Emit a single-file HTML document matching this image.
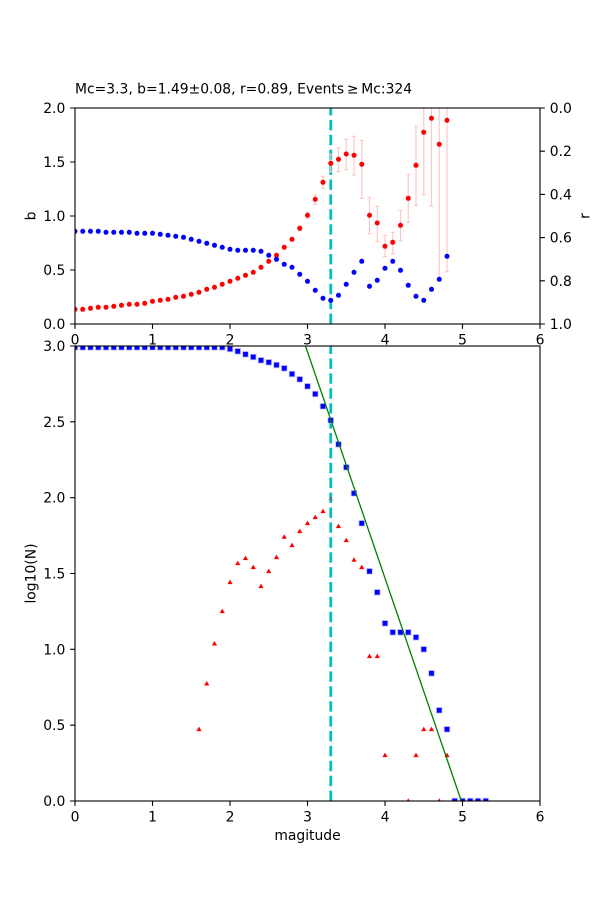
<!DOCTYPE html>
<html><head><meta charset="utf-8"><style>
html,body{margin:0;padding:0;background:#fff;}
svg{display:block;}
text{font-family:"DejaVu Sans","Liberation Sans",sans-serif;font-size:13.9px;fill:#000;}
</style></head><body>
<svg width="600" height="900" viewBox="0 0 600 900" xmlns="http://www.w3.org/2000/svg">
<defs>
<clipPath id="c1"><rect x="75" y="108" width="465" height="216"/></clipPath>
<clipPath id="c2"><rect x="75" y="346" width="465" height="455"/></clipPath>
</defs>
<rect width="600" height="900" fill="#fff"/>

<!-- Title -->
<text x="75" y="93.5">Mc=3.3, b=1.49±0.08, r=0.89, Events&#8201;≥&#8201;Mc:324</text>

<!-- ============ TOP AXES ============ -->
<g clip-path="url(#c1)">
<line x1="330.75" y1="324" x2="330.75" y2="108" stroke="#00bfbf" stroke-width="2.8" stroke-dasharray="10.4 4.5"/>
<!-- error bars -->
<g stroke="#ffc4c4" stroke-width="1.1" fill="none">
<path d="M299.75 226V231M297.75 226h4M297.75 231h4"/>
<path d="M307.5 212V219M305.5 212h4M305.5 219h4"/>
<path d="M315.25 195V204.3M313.25 195h4M313.25 204.3h4"/>
<path d="M323 176.3V188.3M321 176.3h4M321 188.3h4"/>
<path d="M330.75 154.3V171.7M328.75 154.3h4M328.75 171.7h4"/>
<path d="M338.5 147.7V171.7M336.5 147.7h4M336.5 171.7h4"/>
<path d="M346.25 139.3V169.7M344.25 139.3h4M344.25 169.7h4"/>
<path d="M354 136.3V175M352 136.3h4M352 175h4"/>
<path d="M361.75 140.3V198.3M359.75 140.3h4M359.75 198.3h4"/>
<path d="M369.5 197.3V233.7M367.5 197.3h4M367.5 233.7h4"/>
<path d="M377.25 206.3V241.7M375.25 206.3h4M375.25 241.7h4"/>
<path d="M385 235.3V256.7M383 235.3h4M383 256.7h4"/>
<path d="M392.75 232.3V253.7M390.75 232.3h4M390.75 253.7h4"/>
<path d="M400.5 210.3V240.7M398.5 210.3h4M398.5 240.7h4"/>
<path d="M408.25 174.3V222.3M406.25 174.3h4M406.25 222.3h4"/>
<path d="M416 126.3V205.3M414 126.3h4M414 205.3h4"/>
<path d="M423.75 100V194.7M421.75 194.7h4"/>
<path d="M431.5 100V206.3M429.5 206.3h4"/>
<path d="M439.25 100V278.3M437.25 278.3h4"/>
<path d="M447 100V271.7M445 271.7h4"/>
</g>
<!-- red dots (b) -->
<g fill="#ff0000">
<circle cx="75" cy="309.3" r="2.5"/><circle cx="82.75" cy="309.3" r="2.5"/><circle cx="90.5" cy="308.3" r="2.5"/><circle cx="98.25" cy="307.3" r="2.5"/><circle cx="106" cy="307.3" r="2.5"/><circle cx="113.75" cy="306.3" r="2.5"/><circle cx="121.5" cy="305.3" r="2.5"/><circle cx="129.25" cy="304.3" r="2.5"/><circle cx="137" cy="304.3" r="2.5"/><circle cx="144.75" cy="303.3" r="2.5"/><circle cx="152.5" cy="301.3" r="2.5"/><circle cx="160.25" cy="300.3" r="2.5"/><circle cx="168" cy="299.3" r="2.5"/><circle cx="175.75" cy="297.3" r="2.5"/><circle cx="183.5" cy="296.3" r="2.5"/><circle cx="191.25" cy="294.3" r="2.5"/><circle cx="199" cy="292.3" r="2.5"/><circle cx="206.75" cy="289.3" r="2.5"/><circle cx="214.5" cy="287.3" r="2.5"/><circle cx="222.25" cy="284.3" r="2.5"/><circle cx="230" cy="281.3" r="2.5"/><circle cx="237.75" cy="278.3" r="2.5"/><circle cx="245.5" cy="275.3" r="2.5"/><circle cx="253.25" cy="272.3" r="2.5"/><circle cx="261" cy="267.3" r="2.5"/><circle cx="268.75" cy="261.3" r="2.5"/><circle cx="276.5" cy="255.3" r="2.5"/><circle cx="284.25" cy="247.3" r="2.5"/><circle cx="292" cy="239.3" r="2.5"/><circle cx="299.75" cy="228.3" r="2.5"/><circle cx="307.5" cy="215.3" r="2.5"/><circle cx="315.25" cy="199.3" r="2.5"/><circle cx="323" cy="182.3" r="2.5"/><circle cx="330.75" cy="163.3" r="2.5"/><circle cx="338.5" cy="159.3" r="2.5"/><circle cx="346.25" cy="154" r="2.5"/><circle cx="354" cy="155.3" r="2.5"/><circle cx="361.75" cy="164.3" r="2.5"/><circle cx="369.5" cy="215.3" r="2.5"/><circle cx="377.25" cy="223" r="2.5"/><circle cx="385" cy="246.3" r="2.5"/><circle cx="392.75" cy="242.3" r="2.5"/><circle cx="400.5" cy="225.3" r="2.5"/><circle cx="408.25" cy="198.3" r="2.5"/><circle cx="416" cy="165.3" r="2.5"/><circle cx="423.75" cy="132.3" r="2.5"/><circle cx="431.5" cy="118.3" r="2.5"/><circle cx="439.25" cy="144.3" r="2.5"/><circle cx="447" cy="120.3" r="2.5"/>
</g>
<!-- blue dots (r) -->
<g fill="#0000ff">
<circle cx="75" cy="231.3" r="2.5"/><circle cx="82.75" cy="231.3" r="2.5"/><circle cx="90.5" cy="231.3" r="2.5"/><circle cx="98.25" cy="231.3" r="2.5"/><circle cx="106" cy="232.3" r="2.5"/><circle cx="113.75" cy="232.3" r="2.5"/><circle cx="121.5" cy="232.3" r="2.5"/><circle cx="129.25" cy="232.3" r="2.5"/><circle cx="137" cy="233.3" r="2.5"/><circle cx="144.75" cy="233.3" r="2.5"/><circle cx="152.5" cy="233.3" r="2.5"/><circle cx="160.25" cy="234.3" r="2.5"/><circle cx="168" cy="235.3" r="2.5"/><circle cx="175.75" cy="236.3" r="2.5"/><circle cx="183.5" cy="237.3" r="2.5"/><circle cx="191.25" cy="239.3" r="2.5"/><circle cx="199" cy="241.3" r="2.5"/><circle cx="206.75" cy="243.3" r="2.5"/><circle cx="214.5" cy="245.3" r="2.5"/><circle cx="222.25" cy="247.3" r="2.5"/><circle cx="230" cy="249.3" r="2.5"/><circle cx="237.75" cy="250.3" r="2.5"/><circle cx="245.5" cy="250.3" r="2.5"/><circle cx="253.25" cy="250.3" r="2.5"/><circle cx="261" cy="251.3" r="2.5"/><circle cx="268.75" cy="255.3" r="2.5"/><circle cx="276.5" cy="259.3" r="2.5"/><circle cx="284.25" cy="264.3" r="2.5"/><circle cx="292" cy="267.3" r="2.5"/><circle cx="299.75" cy="274.3" r="2.5"/><circle cx="307.5" cy="281.3" r="2.5"/><circle cx="315.25" cy="290.3" r="2.5"/><circle cx="323" cy="298.3" r="2.5"/><circle cx="330.75" cy="300.3" r="2.5"/><circle cx="338.5" cy="295.3" r="2.5"/><circle cx="346.25" cy="284.3" r="2.5"/><circle cx="354" cy="272.3" r="2.5"/><circle cx="361.75" cy="261.3" r="2.5"/><circle cx="369.5" cy="286.3" r="2.5"/><circle cx="377.25" cy="280.3" r="2.5"/><circle cx="385" cy="268.3" r="2.5"/><circle cx="392.75" cy="261.3" r="2.5"/><circle cx="400.5" cy="270.3" r="2.5"/><circle cx="408.25" cy="285.3" r="2.5"/><circle cx="416" cy="296.3" r="2.5"/><circle cx="423.75" cy="300.3" r="2.5"/><circle cx="431.5" cy="289.3" r="2.5"/><circle cx="439.25" cy="279.3" r="2.5"/><circle cx="447" cy="256.3" r="2.5"/>
</g>
</g>
<!-- top frame -->
<rect x="75" y="108" width="465" height="216" fill="none" stroke="#000" stroke-width="1.1"/>
<!-- top ticks -->
<g stroke="#000" stroke-width="1.1">
<path d="M70.1 108H75M70.1 162H75M70.1 216H75M70.1 270H75M70.1 324H75"/>
<path d="M540 108H544.9M540 151.2H544.9M540 194.4H544.9M540 237.6H544.9M540 280.8H544.9M540 324H544.9"/>
<path d="M75 324V328.9M152.5 324V328.9M230 324V328.9M307.5 324V328.9M385 324V328.9M462.5 324V328.9M540 324V328.9"/>
</g>
<g text-anchor="end">
<text x="65.3" y="113">2.0</text><text x="65.3" y="167">1.5</text><text x="65.3" y="221">1.0</text><text x="65.3" y="275">0.5</text><text x="65.3" y="329">0.0</text>
</g>
<g text-anchor="start">
<text x="549.7" y="113">0.0</text><text x="549.7" y="156.2">0.2</text><text x="549.7" y="199.4">0.4</text><text x="549.7" y="242.6">0.6</text><text x="549.7" y="285.8">0.8</text><text x="549.7" y="329">1.0</text>
</g>
<g text-anchor="middle">
<text x="75" y="344.5">0</text><text x="152.5" y="344.5">1</text><text x="230" y="344.5">2</text><text x="307.5" y="344.5">3</text><text x="385" y="344.5">4</text><text x="462.5" y="344.5">5</text><text x="540" y="344.5">6</text>
</g>
<text transform="translate(35.5,216) rotate(-90)" text-anchor="middle">b</text>
<text transform="translate(589.3,216) rotate(-90)" text-anchor="middle">r</text>

<!-- ============ BOTTOM AXES ============ -->
<g clip-path="url(#c2)">
<line x1="330.75" y1="801" x2="330.75" y2="346" stroke="#00bfbf" stroke-width="2.8" stroke-dasharray="10.4 4.5"/>
<!-- red triangles -->
<g fill="#ff0000">
<path d="M199 726.6l2.6 4.5h-5.2z"/><path d="M206.75 681l2.6 4.5h-5.2z"/><path d="M214.5 641l2.6 4.5h-5.2z"/><path d="M222.25 608.6l2.6 4.5h-5.2z"/><path d="M230 579.6l2.6 4.5h-5.2z"/><path d="M237.75 560.6l2.6 4.5h-5.2z"/><path d="M245.5 555.6l2.6 4.5h-5.2z"/><path d="M253.25 564.6l2.6 4.5h-5.2z"/><path d="M261 583.6l2.6 4.5h-5.2z"/><path d="M268.75 568.6l2.6 4.5h-5.2z"/><path d="M276.5 554.6l2.6 4.5h-5.2z"/><path d="M284.25 534.3l2.6 4.5h-5.2z"/><path d="M292 542.6l2.6 4.5h-5.2z"/><path d="M299.75 528.6l2.6 4.5h-5.2z"/><path d="M307.5 520.6l2.6 4.5h-5.2z"/><path d="M315.25 514.6l2.6 4.5h-5.2z"/><path d="M323 508.6l2.6 4.5h-5.2z"/><path d="M330.75 496l2.6 4.5h-5.2z" opacity="0.35"/><path d="M338.5 523.6l2.6 4.5h-5.2z"/><path d="M346.25 537.6l2.6 4.5h-5.2z"/><path d="M354 557.3l2.6 4.5h-5.2z"/><path d="M361.75 564.6l2.6 4.5h-5.2z"/><path d="M369.5 653.6l2.6 4.5h-5.2z"/><path d="M377.25 653.6l2.6 4.5h-5.2z"/><path d="M385 752.6l2.6 4.5h-5.2z"/><path d="M408.25 798.3l2.6 4.5h-5.2z"/><path d="M416 752.6l2.6 4.5h-5.2z"/><path d="M423.75 726.6l2.6 4.5h-5.2z"/><path d="M431.5 726.6l2.6 4.5h-5.2z"/><path d="M439.25 798.3l2.6 4.5h-5.2z"/><path d="M447 752.6l2.6 4.5h-5.2z"/>
</g>
<!-- blue squares -->
<g fill="#0000ff" stroke="#c0c0ff" stroke-width="0.8">
<rect x="72.2" y="344.5" width="5.6" height="5.6"/><rect x="79.95" y="344.5" width="5.6" height="5.6"/><rect x="87.7" y="344.5" width="5.6" height="5.6"/><rect x="95.45" y="344.5" width="5.6" height="5.6"/><rect x="103.2" y="344.5" width="5.6" height="5.6"/><rect x="110.95" y="344.5" width="5.6" height="5.6"/><rect x="118.7" y="344.5" width="5.6" height="5.6"/><rect x="126.45" y="344.5" width="5.6" height="5.6"/><rect x="134.2" y="344.5" width="5.6" height="5.6"/><rect x="141.95" y="344.5" width="5.6" height="5.6"/><rect x="149.7" y="344.5" width="5.6" height="5.6"/><rect x="157.45" y="344.5" width="5.6" height="5.6"/><rect x="165.2" y="344.5" width="5.6" height="5.6"/><rect x="172.95" y="344.5" width="5.6" height="5.6"/><rect x="180.7" y="344.5" width="5.6" height="5.6"/><rect x="188.45" y="344.5" width="5.6" height="5.6"/><rect x="196.2" y="344.5" width="5.6" height="5.6"/><rect x="203.95" y="344.5" width="5.6" height="5.6"/><rect x="211.7" y="344.5" width="5.6" height="5.6"/><rect x="219.45" y="344.5" width="5.6" height="5.6"/>
<rect x="227.2" y="346.2" width="5.6" height="5.6"/><rect x="234.95" y="348.5" width="5.6" height="5.6"/><rect x="242.7" y="351.5" width="5.6" height="5.6"/><rect x="250.45" y="354.2" width="5.6" height="5.6"/><rect x="258.2" y="357.5" width="5.6" height="5.6"/><rect x="265.95" y="359.5" width="5.6" height="5.6"/><rect x="273.7" y="362.2" width="5.6" height="5.6"/><rect x="281.45" y="365.5" width="5.6" height="5.6"/><rect x="289.2" y="371.2" width="5.6" height="5.6"/><rect x="296.95" y="376.5" width="5.6" height="5.6"/><rect x="304.7" y="383.5" width="5.6" height="5.6"/><rect x="312.45" y="391.2" width="5.6" height="5.6"/><rect x="320.2" y="403.5" width="5.6" height="5.6"/><rect x="327.95" y="417.5" width="5.6" height="5.6"/><rect x="335.7" y="441.5" width="5.6" height="5.6"/><rect x="343.45" y="464.5" width="5.6" height="5.6"/><rect x="351.2" y="490.5" width="5.6" height="5.6"/><rect x="358.95" y="520.5" width="5.6" height="5.6"/><rect x="366.7" y="568.5" width="5.6" height="5.6"/><rect x="374.45" y="589.5" width="5.6" height="5.6"/><rect x="382.2" y="620.5" width="5.6" height="5.6"/><rect x="389.95" y="629.5" width="5.6" height="5.6"/><rect x="397.7" y="629.5" width="5.6" height="5.6"/><rect x="405.45" y="629.5" width="5.6" height="5.6"/><rect x="413.2" y="634.5" width="5.6" height="5.6"/><rect x="420.95" y="646.5" width="5.6" height="5.6"/><rect x="428.7" y="670.5" width="5.6" height="5.6"/><rect x="436.45" y="707.5" width="5.6" height="5.6"/><rect x="444.2" y="726.5" width="5.6" height="5.6"/><rect x="451.95" y="798.2" width="5.6" height="5.6"/><rect x="459.7" y="798.2" width="5.6" height="5.6"/><rect x="467.45" y="798.2" width="5.6" height="5.6"/><rect x="475.2" y="798.2" width="5.6" height="5.6"/><rect x="482.95" y="798.2" width="5.6" height="5.6"/>
</g>
<line x1="305.5" y1="346" x2="461.3" y2="801" stroke="#008000" stroke-width="1.3"/>
</g>
<!-- bottom frame -->
<rect x="75" y="346" width="465" height="455" fill="none" stroke="#000" stroke-width="1.1"/>
<g stroke="#000" stroke-width="1.1">
<path d="M70.1 346H75M70.1 421.8H75M70.1 497.7H75M70.1 573.5H75M70.1 649.3H75M70.1 725.2H75M70.1 801H75"/>
<path d="M75 801V805.9M152.5 801V805.9M230 801V805.9M307.5 801V805.9M385 801V805.9M462.5 801V805.9M540 801V805.9"/>
</g>
<g text-anchor="end">
<text x="65.3" y="351">3.0</text><text x="65.3" y="426.8">2.5</text><text x="65.3" y="502.7">2.0</text><text x="65.3" y="578.5">1.5</text><text x="65.3" y="654.3">1.0</text><text x="65.3" y="730.2">0.5</text><text x="65.3" y="806">0.0</text>
</g>
<g text-anchor="middle">
<text x="75" y="821.3">0</text><text x="152.5" y="821.3">1</text><text x="230" y="821.3">2</text><text x="307.5" y="821.3">3</text><text x="385" y="821.3">4</text><text x="462.5" y="821.3">5</text><text x="540" y="821.3">6</text>
</g>
<text x="307.5" y="840" text-anchor="middle">magitude</text>
<text transform="translate(35.3,573.5) rotate(-90)" text-anchor="middle">log10(N)</text>
</svg>
</body></html>
